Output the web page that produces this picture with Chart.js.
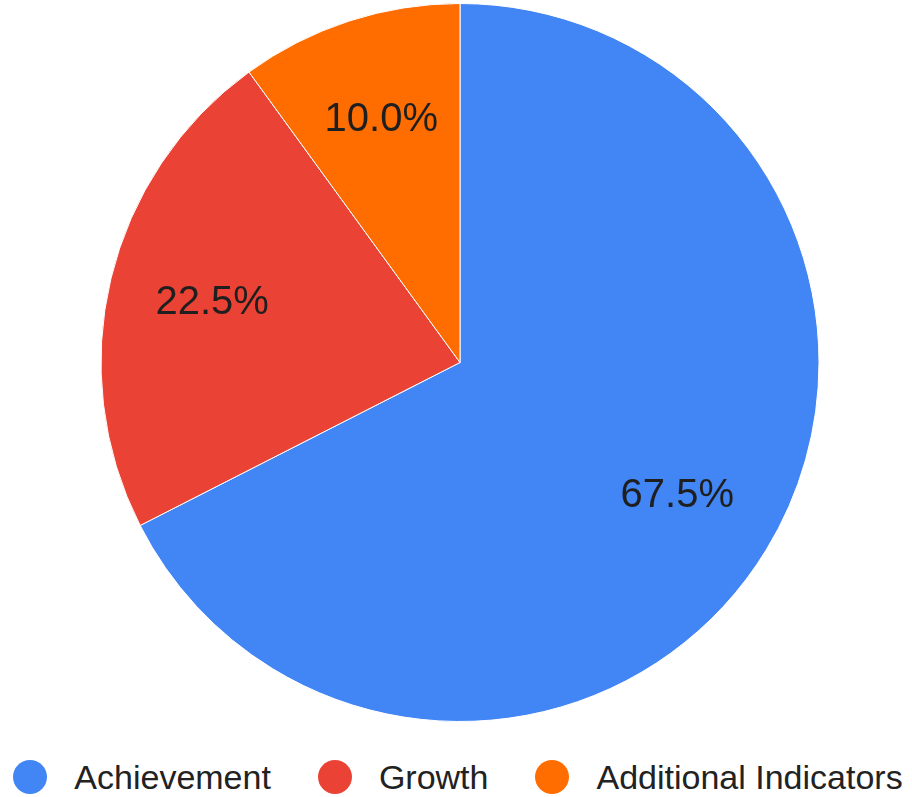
<!DOCTYPE html>
<html>
<head>
<meta charset="utf-8">
<script src="https://cdn.jsdelivr.net/npm/chart.js@4/dist/chart.umd.min.js"></script>
<style>
  html, body { margin: 0; padding: 0; background: #fff; }
  body { width: 912px; height: 797px; overflow: hidden; font-family: "Liberation Sans", Arial, sans-serif; }
  .chart-wrap { position: relative; width: 912px; height: 740px; }
  .legend { display: flex; justify-content: center; align-items: center; height: 57px; margin-top: 8px; padding-left: 4px; }
  .legend-item { display: flex; align-items: center; margin-right: 47px; }
  .legend-item:last-child { margin-right: 0; }
  .legend-dot { width: 34px; height: 34px; border-radius: 50%; margin-right: 27px; }
  .legend-text { font-size: 34px; color: #222; line-height: 1; }
</style>
</head>
<body>
<div class="chart-wrap"><canvas class="my-chart"></canvas></div>
<div class="legend"></div>
<script>
const categories = ["Achievement", "Growth", "Additional Indicators"];
const shares = [67.5, 22.5, 10.0];
const sliceColors = ["#4285F4", "#EA4335", "#FF6D01"];

// Percent text inside each slice, placed along the slice's middle angle
const sliceLabels = {
  id: "sliceLabels",
  afterDatasetsDraw(chart) {
    const ctx = chart.ctx;
    const meta = chart.getDatasetMeta(0);
    const total = shares.reduce((a, b) => a + b, 0);
    ctx.save();
    ctx.font = "40px 'Liberation Sans', Arial, sans-serif";
    ctx.fillStyle = "#1f1f1f";
    ctx.textAlign = "center";
    ctx.textBaseline = "middle";
    meta.data.forEach((arc, i) => {
      const p = arc.getProps(["x", "y", "startAngle", "endAngle", "outerRadius"], true);
      const mid = (p.startAngle + p.endAngle) / 2;
      const r = p.outerRadius * 0.71;
      const pct = ((shares[i] / total) * 100).toFixed(1) + "%";
      ctx.fillText(pct, p.x + Math.cos(mid) * r, p.y + Math.sin(mid) * r);
    });
    ctx.restore();
  },
};

new Chart(document.querySelector(".my-chart"), {
  type: "pie",
  data: {
    labels: categories,
    datasets: [
      {
        data: shares,
        backgroundColor: sliceColors,
        borderColor: "#ffffff",
        borderWidth: 1,
      },
    ],
  },
  options: {
    responsive: true,
    maintainAspectRatio: false,
    animation: false,
    layout: { padding: { top: 3, bottom: 18, left: 8, right: 0 } },
    plugins: {
      legend: { display: false },
      tooltip: { enabled: false },
    },
  },
  plugins: [sliceLabels],
});

// Legend row under the pie
const legend = document.querySelector(".legend");
categories.forEach((name, i) => {
  const item = document.createElement("div");
  item.className = "legend-item";
  const dot = document.createElement("span");
  dot.className = "legend-dot";
  dot.style.background = sliceColors[i];
  const text = document.createElement("span");
  text.className = "legend-text";
  text.textContent = name;
  item.appendChild(dot);
  item.appendChild(text);
  legend.appendChild(item);
});
</script>
</body>
</html>
